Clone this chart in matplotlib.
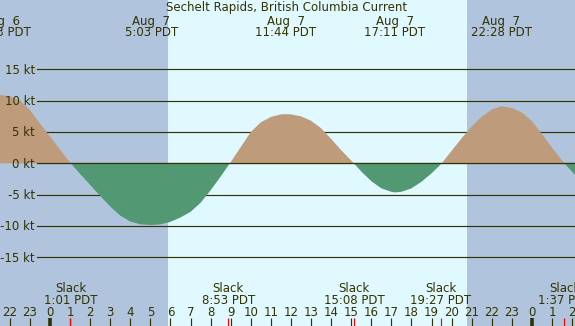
import matplotlib
matplotlib.use('Agg')
import matplotlib.pyplot as plt
import numpy as np

# ---------------- data ----------------
# time in hours from Aug 7 00:00 PDT, half-hour samples
hours = np.arange(-3.0, 27.0, 0.5)
speed_kt = [10.9, 10.9, 10.7, 10.05, 8.5, 6.35, 4.3, 2.2, 0.12,
            -1.7, -3.45, -5.2, -6.9, -8.35, -9.3, -9.75, -9.85,
            -9.75, -9.35, -8.65, -7.75, -6.3, -4.3, -2.1,
            0.2, 2.6, 5.0, 6.55, 7.4, 7.82, 7.82, 7.5, 6.8, 5.6, 3.9, 2.1, 0.45,
            -1.3, -2.85, -4.0, -4.55, -4.55, -4.0, -2.95, -1.6,
            -0.05, 2.0, 4.0, 5.9, 7.45, 8.6, 9.1, 8.85, 8.1, 6.75, 4.65, 2.5, 0.45,
            -1.35, -3.0]

# maximum currents (times and speeds)
max_times = [-2.45, 5.05, 11.733, 17.183, 22.467]
max_speed = [10.9, -9.85, 7.85, -4.65, 9.12]
max_dates = ['Aug  6', 'Aug  7', 'Aug  7', 'Aug  7', 'Aug  7']
max_labels = ['21:33 PDT', '5:03 PDT', '11:44 PDT', '17:11 PDT', '22:28 PDT']

slack_times = [1.017, 8.883, 15.133, 19.45, 25.617]
slack_labels = ['1:01 PDT', '8:53 PDT', '15:08 PDT', '19:27 PDT', '1:37 PDT']

sunrise = 5.877
sunset = 20.77

levels = [15, 10, 5, 0, -5, -10, -15]
tick_hours = list(range(-2, 27))
midnights = [0, 24]

title = 'Sechelt Rapids, British Columbia Current'

# ---------------- style ----------------
W, H = 575, 326
night = '#b0c4de'
day = '#e0f8ff'
flood = '#bd9b7b'
ebb = '#529872'
fg = '#333300'
fs = 8.5

plt.rcParams['font.family'] = ['DejaVu Sans']

fig = plt.figure(figsize=(W / 100, H / 100), dpi=100)
ax = fig.add_axes([0, 0, 1, 1])
x0, x1 = -2.490, 26.145
ax.set_xlim(x0, x1)
ax.set_ylim(-25.99, 26.09)
ax.axis('off')

ax.axvspan(x0, sunrise, color=night, lw=0, zorder=0)
ax.axvspan(sunrise, sunset, color=day, lw=0, zorder=0)
ax.axvspan(sunset, x1, color=night, lw=0, zorder=0)

for lev in levels:
    ax.axhline(lev, xmin=37 / W, xmax=1, color=fg, lw=0.85, zorder=1)

# merge the half-hour samples with the maxima
t_all = np.concatenate([hours, max_times])
v_all = np.concatenate([speed_kt, max_speed])
order = np.argsort(t_all, kind='stable')
t_all = t_all[order]
v_all = v_all[order]

ax.fill_between(t_all, v_all, 0, where=v_all >= 0, interpolate=True, color=flood, lw=0, zorder=2)
ax.fill_between(t_all, v_all, 0, where=v_all <= 0, interpolate=True, color=ebb, lw=0, zorder=2)
ax.axhline(0, xmin=37 / W, xmax=1, color=fg, lw=0.85, zorder=3)

ytr = ax.get_yaxis_transform()
for lev in levels:
    ax.text(35 / W, lev - 0.70, f'{lev} kt', transform=ytr, ha='right', va='baseline',
            fontsize=fs, color=fg, zorder=5)

xtr = ax.get_xaxis_transform()


def fy(px):
    return 1 - px / H


ax.text(287 / W, fy(11.5), title, transform=ax.transAxes, ha='center', va='baseline',
        fontsize=fs, color=fg, zorder=5)

for t, d, lab in zip(max_times, max_dates, max_labels):
    ax.text(t, fy(25), d, transform=xtr, ha='center', va='baseline', fontsize=fs, color=fg, zorder=5)
    ax.text(t, fy(36), lab, transform=xtr, ha='center', va='baseline', fontsize=fs, color=fg, zorder=5)

for t, lab in zip(slack_times, slack_labels):
    ax.text(t, fy(291.5), 'Slack', transform=xtr, ha='center', va='baseline', fontsize=fs, color=fg, zorder=5)
    ax.text(t, fy(304), lab, transform=xtr, ha='center', va='baseline', fontsize=fs, color=fg, zorder=5)

for h in tick_hours:
    ax.text(h, fy(316), str(h % 24), transform=xtr, ha='center', va='baseline', fontsize=fs, color=fg, zorder=5)

tick_top = 8 / H
ax.vlines(tick_hours, 0, tick_top, transform=xtr, color=fg, lw=0.85, zorder=4)
ax.vlines(midnights, 0, tick_top, transform=xtr, color=fg, lw=2.6, zorder=4)
ax.vlines(slack_times, 0, tick_top, transform=xtr, color='#ff0000', lw=0.85, zorder=4)

fig.savefig('out.png', dpi=100)
